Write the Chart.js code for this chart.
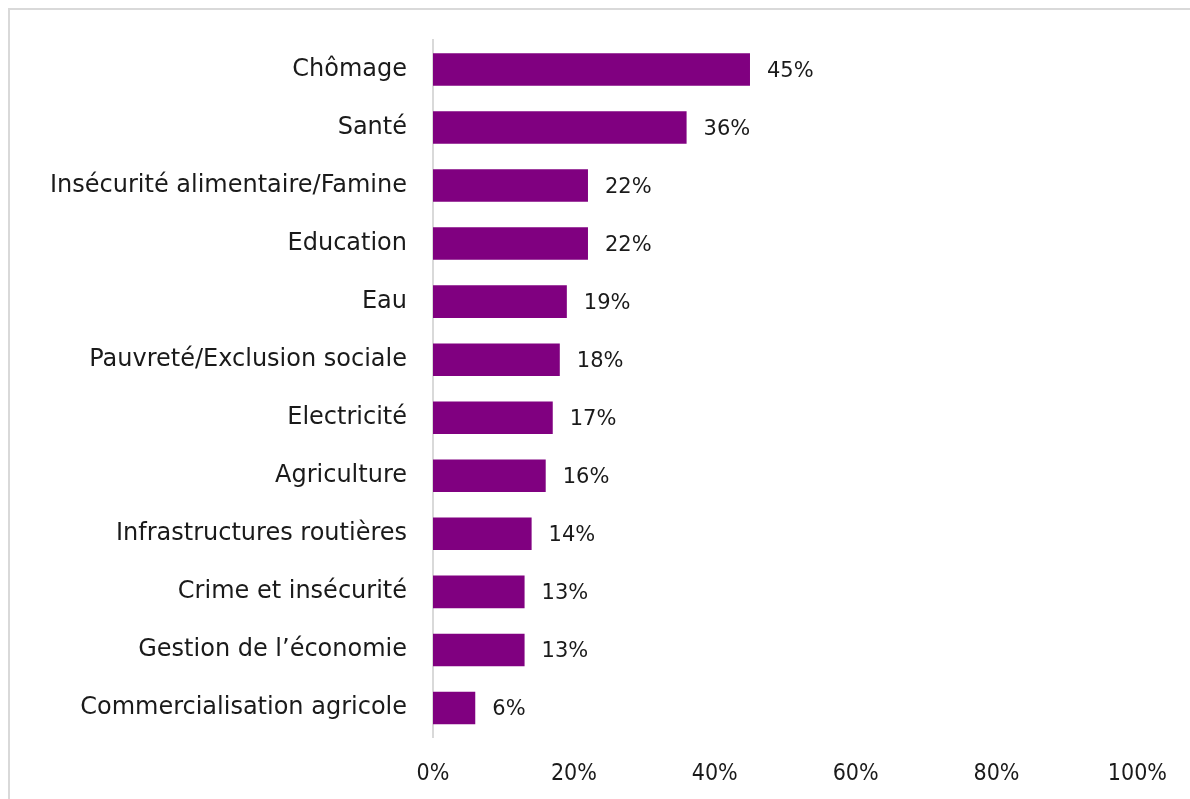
<!DOCTYPE html>
<html>
<head>
<meta charset="utf-8">
<script src="https://cdn.jsdelivr.net/npm/chart.js@4.4.1/dist/chart.umd.min.js"></script>
<style>
  html, body { margin: 0; padding: 0; background: #fff; overflow: hidden; }
  #frame {
    position: absolute; left: 8px; top: 8px; width: 1200px; height: 820px;
    border-top: 2px solid #d9d9d9; border-left: 2px solid #d9d9d9;
  }
  #wrap { position: absolute; left: 0; top: 0; width: 1190px; height: 799px; }
</style>
</head>
<body>
<div id="frame"></div>
<div id="wrap"><canvas id="chart_problems"></canvas></div>
<script>
const categories = [
  "Chômage",
  "Santé",
  "Insécurité alimentaire/Famine",
  "Education",
  "Eau",
  "Pauvreté/Exclusion sociale",
  "Electricité",
  "Agriculture",
  "Infrastructures routières",
  "Crime et insécurité",
  "Gestion de l\u2019économie",
  "Commercialisation agricole"
];
const values = [45, 36, 22, 22, 19, 18, 17, 16, 14, 13, 13, 6];
const xTicks = [0, 20, 40, 60, 80, 100];

const fontFam = "'DejaVu Sans', sans-serif";
const tickFam = "'DejaVu Sans Condensed', 'DejaVu Sans', sans-serif";

// draw the % next to each bar
const valueLabels = {
  id: "valueLabels",
  afterDatasetsDraw(chart) {
    const ctx = chart.ctx;
    const meta = chart.getDatasetMeta(0);
    ctx.save();
    ctx.font = "21px " + fontFam;
    ctx.fillStyle = "#1a1a1a";
    ctx.textAlign = "left";
    ctx.textBaseline = "middle";
    meta.data.forEach((bar, i) => {
      ctx.fillText(values[i] + "%", bar.x + 17, bar.y + 2);
    });
    ctx.restore();
  }
};

var ctx = document.getElementById("chart_problems").getContext("2d");
var myChart = new Chart(ctx, {
  type: "bar",
  data: {
    labels: categories,
    datasets: [
      {
        data: values,
        backgroundColor: "#800080",
        borderWidth: 0,
        barPercentage: 0.56,
        categoryPercentage: 1.0,
      },
    ],
  },
  plugins: [valueLabels],
  options: {
    indexAxis: "y",
    animation: false,
    responsive: true,
    maintainAspectRatio: false,
    layout: {
      padding: { top: 37, right: 52, bottom: 0, left: 0 },
    },
    plugins: {
      legend: { display: false },
      tooltip: { enabled: false },
    },
    scales: {
      x: {
        min: 0,
        max: 100,
        afterBuildTicks: (scale) => {
          scale.ticks = xTicks.map((v) => ({ value: v }));
        },
        afterFit: (scale) => {
          scale.height = 62;
        },
        grid: { display: false, drawTicks: false },
        border: { display: false },
        ticks: {
          padding: 23,
          color: "#1a1a1a",
          font: { size: 23, family: tickFam, lineHeight: 1.2 },
          callback: (v) => v + "%",
        },
      },
      y: {
        afterFit: (scale) => {
          scale.width = 433;
        },
        grid: { display: false, drawTicks: false },
        border: { display: true, color: "#d9d9d9", width: 2 },
        ticks: {
          padding: 26,
          color: "#1a1a1a",
          font: { size: 24, family: fontFam },
        },
      },
    },
  },
});
</script>
</body>
</html>
